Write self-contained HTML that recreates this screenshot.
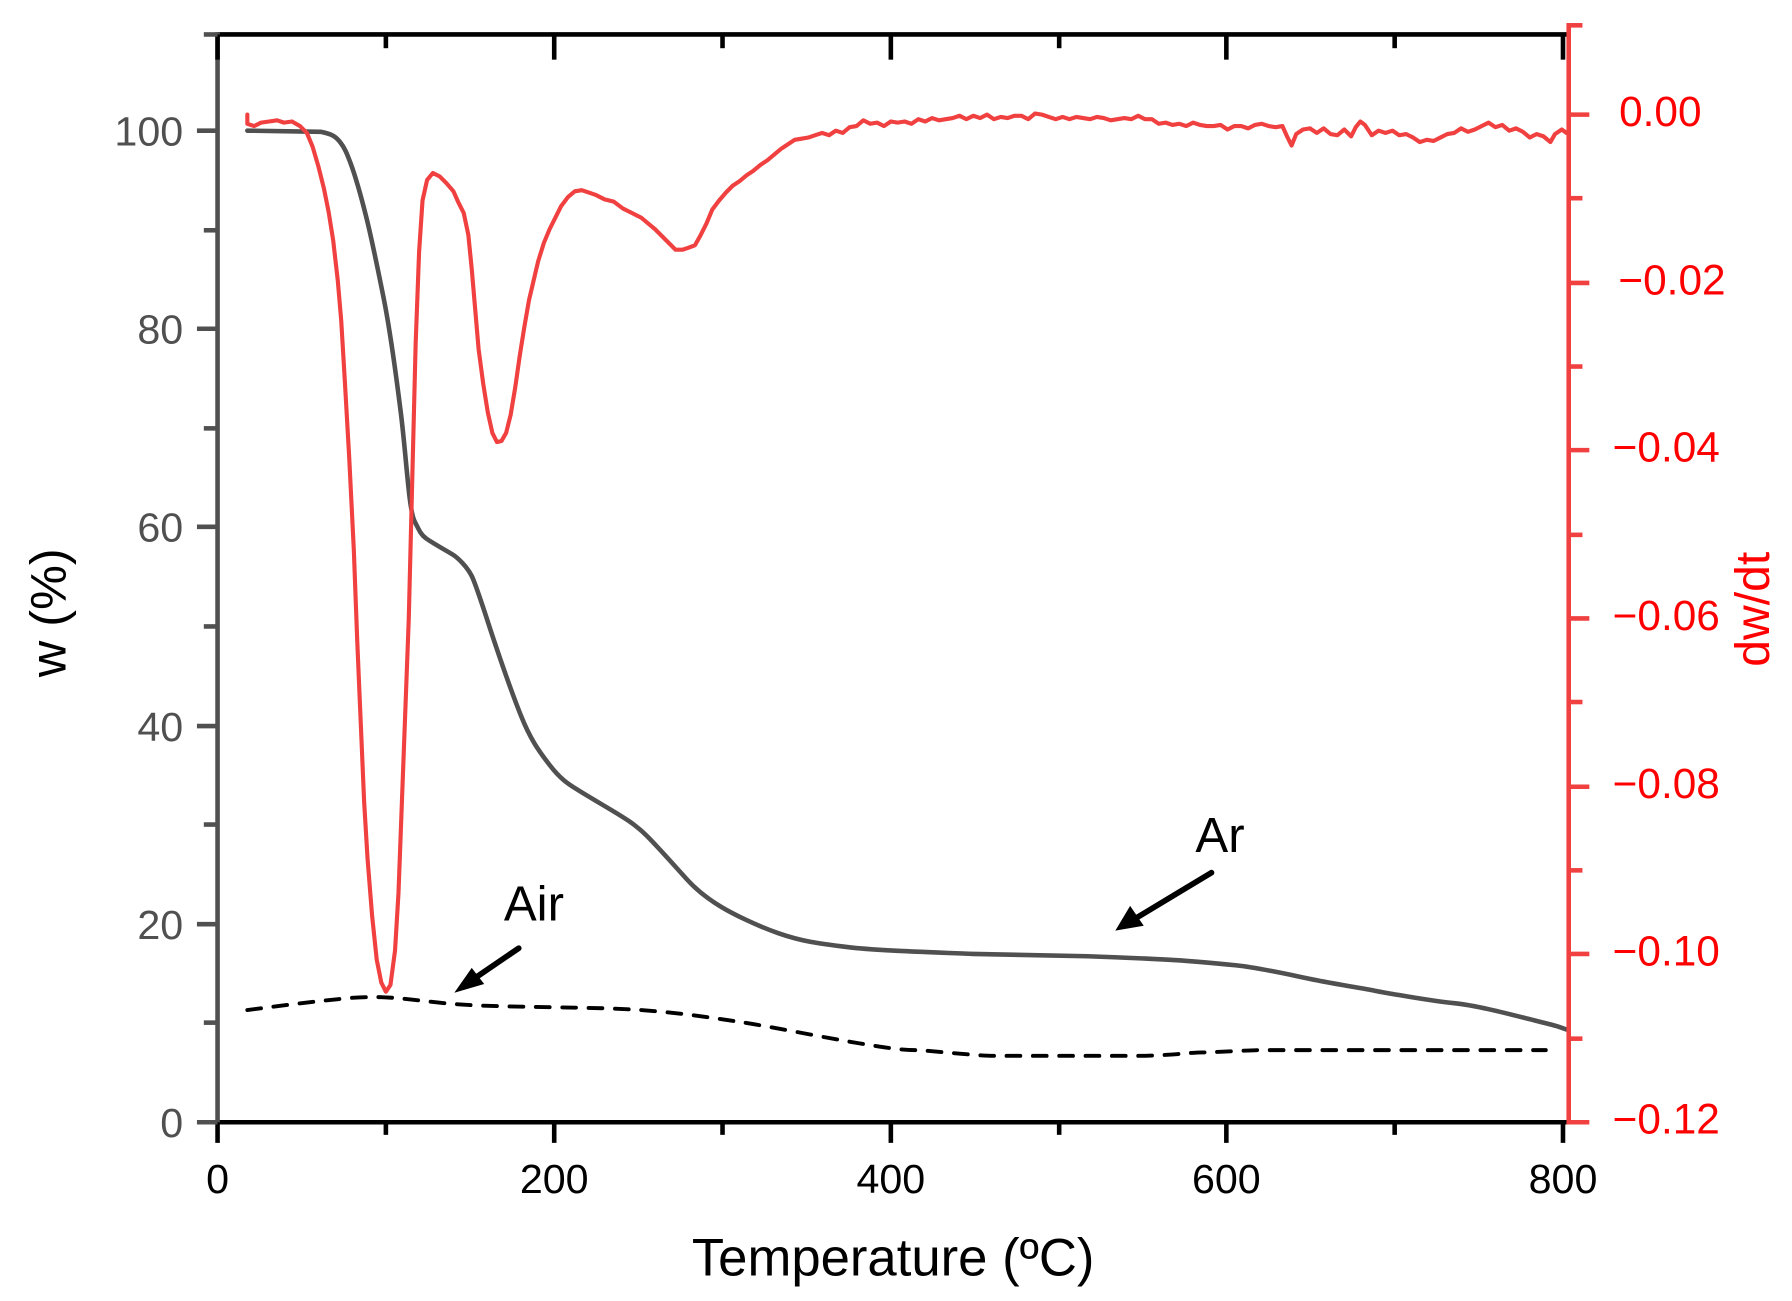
<!DOCTYPE html>
<html><head><meta charset="utf-8"><style>html,body{margin:0;padding:0;background:#fff}svg{display:block}</style></head>
<body>
<svg width="1792" height="1301" viewBox="0 0 1565 1136" xmlns="http://www.w3.org/2000/svg" font-family="Liberation Sans, Arial, sans-serif">
<rect width="1565" height="1136" fill="#fff"/>
<g fill="none" stroke-linejoin="round" stroke-linecap="round">
<path stroke="#000" stroke-width="3.4" stroke-dasharray="12 11" d="M216,882 C240,879 260,876 300,872 S360,874 400,877 S520,879 560,882 S630,890 650,893 S720,906 750,911 S790,917 800,917 S850,922 870,922 L1000,922 C1030,921 1040,919 1050,919 S1090,917 1100,917 L1350,917"/>
<path stroke="#505050" stroke-width="4" d="M216,114 L280,115 C290,117 293,119 297,124 S303,134 306,142 S315,170 320,190 S330,235 335,260 S345,320 350,360 S357,445 362,455 S368,467 372,470 S390,481 395,484 S408,495 412,503 S425,540 430,555 S447,605 455,625 S470,655 480,668 S497,685 505,690 S525,702 535,708 S555,720 565,730 S590,757 600,768 S620,786 630,792 S660,808 680,815 S715,824 740,827 S800,831 850,833 L950,835 C980,836 1000,837 1020,838 S1060,841 1080,843 S1130,852 1150,856 S1190,863 1200,865 S1250,874 1270,876 S1320,886 1340,891 S1360,896 1368,899"/>
<path stroke="#f04040" stroke-width="3.6" d="M216,100 L216,108 L222,110 L228,107 L235,106 L242,105 L248,107 L255,106 L262,110 L268,116 L273,128 L278,145 L283,165 L287,185 L291,210 L295,245 L298,280 L301,330 L305,400 L309,480 L312,560 L315,630 L318,700 L321,750 L325,800 L329,838 L333,858 L337,866 L341,860 L345,830 L348,780 L351,700 L354,620 L357,540 L360,420 L363,300 L366,220 L369,175 L373,157 L378,151 L384,154 L390,160 L396,167 L400,176 L405,186 L409,205 L412,235 L415,270 L418,305 L422,335 L426,360 L430,378 L434,386 L438,385 L442,378 L446,362 L450,338 L454,310 L458,285 L462,262 L466,245 L470,228 L475,212 L480,200 L485,190 L490,180 L496,172 L502,167 L508,166 L514,168 L520,170 L528,174 L536,176 L544,182 L552,186 L560,190 L566,195 L572,200 L578,206 L584,212 L590,218 L596,218 L602,216 L607,214 L612,205 L617,195 L622,183 L628,175 L634,168 L640,162 L646,158 L652,153 L658,149 L664,144 L670,140 L676,135 L682,130 L688,126 L694,122 L700,121 L706,120 L712,118 L718,116 L724,118 L730,114 L736,116 L742,111 L748,110 L754,105 L760,108 L766,107 L772,110 L778,106 L784,107 L790,106 L796,108 L802,104 L808,106 L814,103 L820,105 L826,104 L832,103 L838,101 L844,104 L850,101 L856,103 L862,100 L868,104 L874,102 L880,103 L886,101 L892,101 L898,104 L904,99 L910,100 L916,102 L922,104 L928,102 L934,104 L940,102 L946,103 L952,104 L958,102 L964,103 L970,105 L976,104 L982,103 L988,104 L994,101 L1000,104 L1006,104 L1012,108 L1018,107 L1024,109 L1030,108 L1036,110 L1042,107 L1048,109 L1054,110 L1060,110 L1066,109 L1072,113 L1078,110 L1084,110 L1090,112 L1096,109 L1102,108 L1108,110 L1114,111 L1120,110 L1124,119 L1128,127 L1132,117 L1138,113 L1144,112 L1150,116 L1156,112 L1162,117 L1168,118 L1174,113 L1180,119 L1184,111 L1188,106 L1192,109 L1198,118 L1204,114 L1210,116 L1216,114 L1222,118 L1228,117 L1234,120 L1240,124 L1246,122 L1252,123 L1258,120 L1264,117 L1270,116 L1276,112 L1282,115 L1288,113 L1294,110 L1300,107 L1306,111 L1312,109 L1318,114 L1324,112 L1330,115 L1336,120 L1342,117 L1348,119 L1354,124 L1358,117 L1364,113 L1368,116"/>
</g>
<g fill="#000" stroke="#000">
<line x1="453" y1="828" x2="412" y2="856" stroke-width="5" stroke-linecap="round"/>
<polygon points="398,866 412,846 422,859" stroke-width="1"/>
<line x1="1058" y1="762" x2="990" y2="803" stroke-width="5" stroke-linecap="round"/>
<polygon points="975,812 987,792 998,808" stroke-width="1"/>
</g>
<text x="440" y="804" font-size="43" fill="#000">Air</text>
<text x="1044" y="744" font-size="43" fill="#000">Ar</text>
<g stroke-width="4">
<line x1="190" y1="30" x2="1370" y2="30" stroke="#000"/>
<line x1="190" y1="980" x2="1370" y2="980" stroke="#000"/>
<line x1="190" y1="28" x2="190" y2="982" stroke="#505050"/>
<line x1="1370" y1="20" x2="1370" y2="982" stroke="#f04040"/>
</g>
<g stroke="#000" stroke-width="4">
<line x1="190" y1="980" x2="190" y2="998"/><line x1="337" y1="980" x2="337" y2="991"/>
<line x1="484" y1="980" x2="484" y2="998"/><line x1="631" y1="980" x2="631" y2="991"/>
<line x1="778" y1="980" x2="778" y2="998"/><line x1="925" y1="980" x2="925" y2="991"/>
<line x1="1071" y1="980" x2="1071" y2="998"/><line x1="1218" y1="980" x2="1218" y2="991"/>
<line x1="1365" y1="980" x2="1365" y2="998"/>
<line x1="190" y1="30" x2="190" y2="52"/><line x1="337" y1="30" x2="337" y2="42"/>
<line x1="484" y1="30" x2="484" y2="52"/><line x1="631" y1="30" x2="631" y2="42"/>
<line x1="778" y1="30" x2="778" y2="52"/><line x1="925" y1="30" x2="925" y2="42"/>
<line x1="1071" y1="30" x2="1071" y2="52"/><line x1="1218" y1="30" x2="1218" y2="42"/>
<line x1="1365" y1="30" x2="1365" y2="52"/>
</g>
<g stroke="#505050" stroke-width="4">
<line x1="172" y1="980" x2="190" y2="980"/><line x1="178" y1="893" x2="190" y2="893"/>
<line x1="172" y1="807" x2="190" y2="807"/><line x1="178" y1="720" x2="190" y2="720"/>
<line x1="172" y1="634" x2="190" y2="634"/><line x1="178" y1="547" x2="190" y2="547"/>
<line x1="172" y1="460" x2="190" y2="460"/><line x1="178" y1="374" x2="190" y2="374"/>
<line x1="172" y1="287" x2="190" y2="287"/><line x1="178" y1="201" x2="190" y2="201"/>
<line x1="172" y1="114" x2="190" y2="114"/><line x1="178" y1="30" x2="190" y2="30"/>
</g>
<g stroke="#f04040" stroke-width="4">
<line x1="1370" y1="100" x2="1388" y2="100"/><line x1="1370" y1="173" x2="1382" y2="173"/>
<line x1="1370" y1="247" x2="1388" y2="247"/><line x1="1370" y1="320" x2="1382" y2="320"/>
<line x1="1370" y1="393" x2="1388" y2="393"/><line x1="1370" y1="467" x2="1382" y2="467"/>
<line x1="1370" y1="540" x2="1388" y2="540"/><line x1="1370" y1="613" x2="1382" y2="613"/>
<line x1="1370" y1="687" x2="1388" y2="687"/><line x1="1370" y1="760" x2="1382" y2="760"/>
<line x1="1370" y1="833" x2="1388" y2="833"/><line x1="1370" y1="907" x2="1382" y2="907"/>
<line x1="1370" y1="980" x2="1388" y2="980"/><line x1="1370" y1="22" x2="1382" y2="22"/>
</g>
<g font-size="36" fill="#000" text-anchor="middle">
<text x="190" y="1042">0</text><text x="484" y="1042">200</text><text x="778" y="1042">400</text>
<text x="1071" y="1042">600</text><text x="1365" y="1042">800</text>
</g>
<g font-size="36" fill="#505050" text-anchor="end">
<text x="160" y="993">0</text><text x="160" y="820">20</text><text x="160" y="647">40</text>
<text x="160" y="473">60</text><text x="160" y="300">80</text><text x="160" y="127">100</text>
</g>
<g font-size="37" fill="#ff0000" text-anchor="end">
<text x="1486" y="110">0.00</text><text x="1507" y="257">−0.02</text><text x="1502" y="403">−0.04</text>
<text x="1502" y="550">−0.06</text><text x="1502" y="697">−0.08</text><text x="1502" y="843">−0.10</text>
<text x="1502" y="990">−0.12</text>
</g>
<text x="780" y="1114" font-size="46" text-anchor="middle" fill="#000">Temperature (ºC)</text>
<text transform="translate(57,535) rotate(-90)" font-size="44" text-anchor="middle" fill="#000">w (%)</text>
<text transform="translate(1545,532) rotate(-90)" font-size="42" text-anchor="middle" fill="#ff0000">dw/dt</text>
</svg>
</body></html>
